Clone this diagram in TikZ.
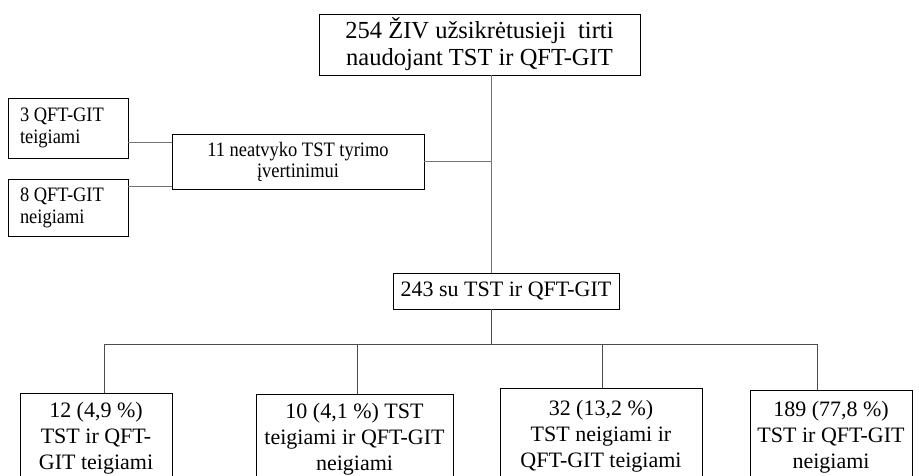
\documentclass[tikz,border=0pt]{standalone}
\usepackage{fontspec}
\setmainfont{Liberation Serif}
\newfontfamily\condf[FakeStretch=0.9]{Liberation Serif}
\begin{document}
\begin{tikzpicture}[x=1pt,y=-1pt,
  box/.style={draw=black,line width=0.9pt,inner sep=0pt,align=center},
  conn/.style={draw=black!55,line width=1pt},
  conn2/.style={draw=black!70,line width=0.8pt}]
\clip (0,0) rectangle (919,475);
\fill[white] (0,0) rectangle (919,475);
% top
\node[box,minimum width=321pt,minimum height=61pt,font=\fontsize{24.5}{27}\selectfont] (top) at (479.5,44.5) {254 ŽIV užsikrėtusieji\ \ tirti\\naudojant TST ir QFT-GIT};
% left side
\node[box,minimum width=120pt,minimum height=60pt,align=left,font=\condf\fontsize{20.5}{22}\selectfont] (a3) at (68,128) {\makebox[96pt][l]{3 QFT-GIT}\\teigiami};
\node[box,minimum width=120pt,minimum height=57pt,align=left,font=\condf\fontsize{20.5}{22}\selectfont] (a8) at (68,208) {\makebox[96pt][l]{8 QFT-GIT}\\neigiami};
\node[box,minimum width=252pt,minimum height=55pt,font=\condf\fontsize{20.5}{21}\selectfont] (n11) at (298,161.5) {11 neatvyko TST tyrimo\\įvertinimui};
\coordinate (j) at (491,161);
% middle
\node[box,minimum width=226pt,minimum height=36pt,font=\fontsize{22}{26}\selectfont] (n243) at (506,291) {243 su TST ir QFT-GIT};
% bottom
\node[box,minimum width=152pt,minimum height=91pt,font=\fontsize{22}{26}\selectfont] (b1) at (96,438.5) {12 (4,9 \%)\\TST ir QFT-\\GIT teigiami};
\node[box,minimum width=197pt,minimum height=90pt,font=\fontsize{22}{26}\selectfont] (b2) at (354.5,439) {10 (4,1 \%) TST\\teigiami ir QFT-GIT\\neigiami};
\node[box,minimum width=202pt,minimum height=96pt,font=\fontsize{22}{26}\selectfont] (b3) at (601,436) {32 (13,2 \%)\\TST neigiami ir\\QFT-GIT teigiami};
\node[box,minimum width=162pt,minimum height=94pt,font=\fontsize{22}{26}\selectfont] (b4) at (831,437) {189 (77,8 \%)\\TST ir QFT-GIT\\neigiami};
% connectors
\draw[conn] (top.south -| j) -- (j);
\draw[conn] (j) -- (n243.north -| j);
\draw[conn] (n11.east |- j) -- (j);
\draw[conn] (a3.east |- 0,142) -- (n11.west |- 0,142);
\draw[conn] (a8.east |- 0,186) -- (n11.west |- 0,186);
\coordinate (bar) at (491,344);
\draw[conn2] (n243.south -| bar) -- (bar);
\draw[conn2] (104,344) -- (817,344);
\draw[conn2] (b1.north -| 104,0) -- (104,344);
\draw[conn2] (b2.north -| 357,0) -- (357,344);
\draw[conn2] (b3.north -| 602,0) -- (602,344);
\draw[conn2] (b4.north -| 817,0) -- (817,344);
\end{tikzpicture}
\end{document}
